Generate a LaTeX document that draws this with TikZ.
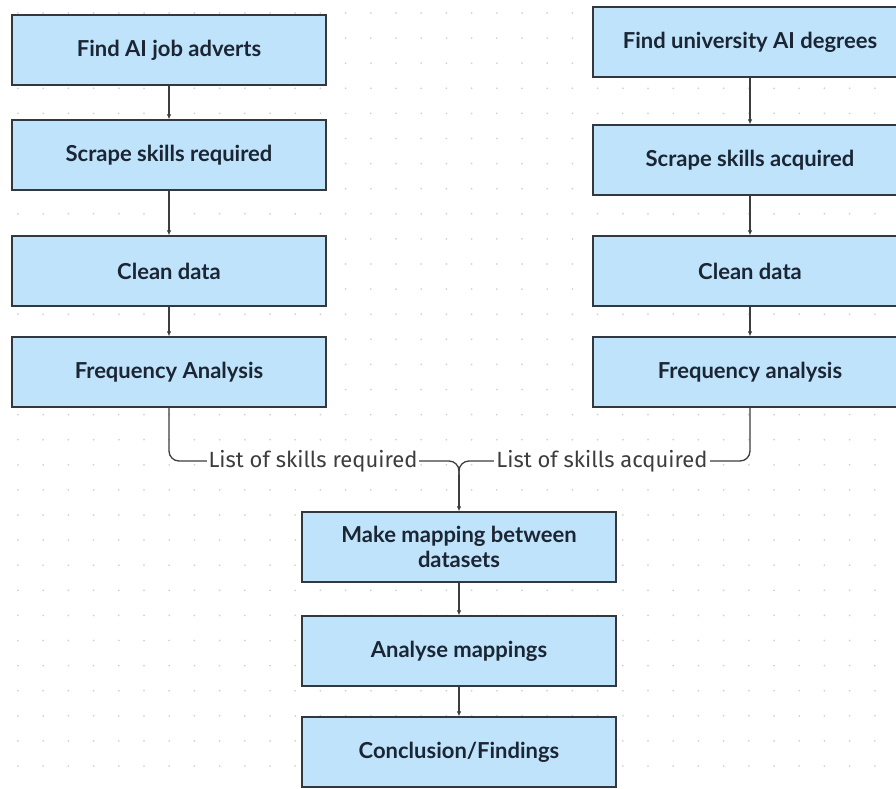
\documentclass[tikz,border=0pt]{standalone}
\usepackage{fontspec}
\setmainfont{Lato}
\newfontfamily\labfont{Fira Sans}
\usetikzlibrary{arrows.meta}
\definecolor{boxfill}{HTML}{BEE3FA}
\definecolor{boxline}{HTML}{33383E}
\definecolor{txt}{HTML}{1B2533}
\definecolor{lnk}{HTML}{3D3D3D}
\definecolor{dotc}{HTML}{D3D3D3}
\begin{document}
\begin{tikzpicture}[x=1pt,y=-1pt,
 stepbox/.style={draw=boxline, line width=1.3pt, fill=boxfill, minimum width=314pt, minimum height=70pt, inner sep=0pt, text=txt, font=\bfseries\fontsize{22}{25}\selectfont, align=center},
 conn/.style={draw=lnk, line width=1.3pt, -{Latex[length=5pt,width=4.5pt]}},
 lnkline/.style={draw=lnk, line width=1.3pt},
 lab/.style={fill=white, text=lnk, font=\labfont\fontsize{22}{24}\selectfont, inner xsep=2pt, inner ysep=0pt}
]
\useasboundingbox (0,0) rectangle (896,789);
\clip (0,0) rectangle (896,789);
\fill[white] (0,0) rectangle (896,789);
\foreach \i in {0,...,35} \foreach \j in {0,...,31} \fill[dotc] (18+25.2*\i, 13+25.1*\j) circle (1pt);

\node[stepbox] (L1) at (169,50) {Find AI job adverts};
\node[stepbox] (L2) at (169,155) {Scrape skills required};
\node[stepbox] (L3) at (169,271) {Clean data};
\node[stepbox] (L4) at (169,372) {Frequency Analysis};
\node[stepbox] (R1) at (750,42) {Find university AI degrees};
\node[stepbox] (R2) at (750,160) {Scrape skills acquired};
\node[stepbox] (R3) at (750,271) {Clean data};
\node[stepbox] (R4) at (750,372) {Frequency analysis};
\node[stepbox] (M1) at (459,547) {Make mapping between\\datasets};
\node[stepbox] (M2) at (459,651) {Analyse mappings};
\node[stepbox] (M3) at (459,752) {Conclusion/Findings};

\draw[conn] (L1) -- (L2);
\draw[conn] (L2) -- (L3);
\draw[conn] (L3) -- (L4);
\draw[conn] (R1) -- (R2);
\draw[conn] (R2) -- (R3);
\draw[conn] (R3) -- (R4);
\draw[conn] (M1) -- (M2);
\draw[conn] (M2) -- (M3);

\coordinate (J) at (459,461);
\coordinate (Jd) at (459,475);
\draw[lnkline, rounded corners=10pt] (L4.south) |- (J) -- (Jd);
\draw[lnkline, rounded corners=10pt] (R4.south) |- (J) -- (Jd);
\draw[conn] (Jd) -- (M1.north);
\node[lab] (LA) at (313,461) {List of skills required};
\node[lab] (LB) at (602,461) {List of skills acquired};
\end{tikzpicture}
\end{document}
